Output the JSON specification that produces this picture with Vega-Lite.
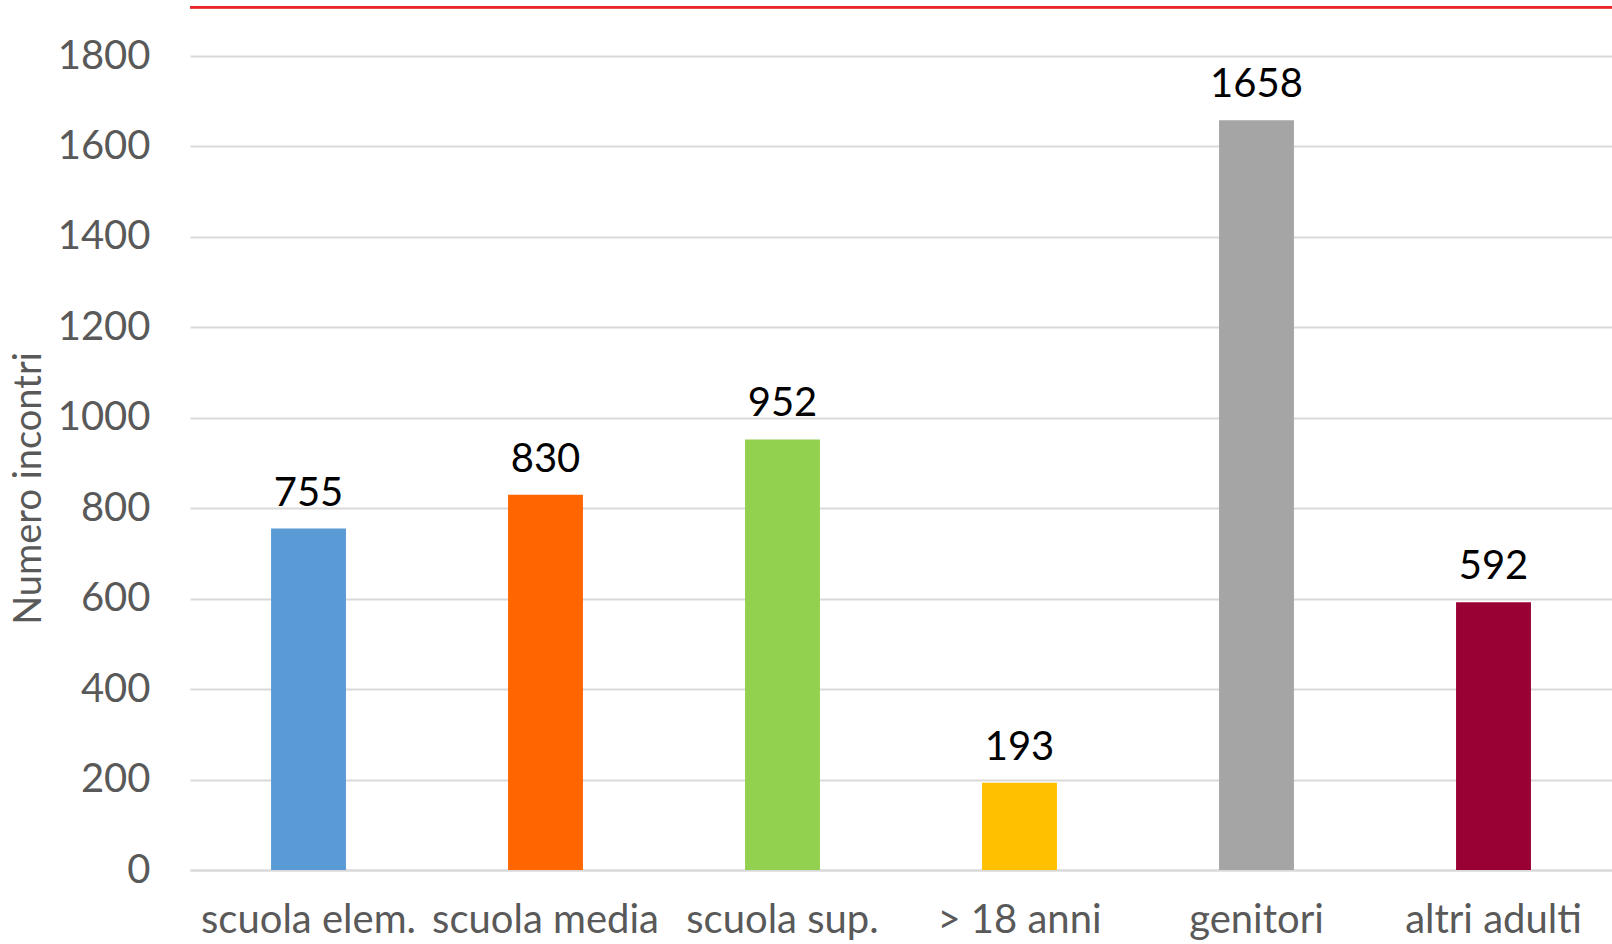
{
  "$schema": "https://vega.github.io/schema/vega-lite/v6.json",
  "autosize": "none",
  "width": 1422,
  "height": 814,
  "padding": {"left": 190, "top": 56, "right": 0, "bottom": 74},
  "background": "white",
  "config": {"view": {"stroke": null}, "font": "Lato"},
  "data": {
    "values": [
      {"categoria": "scuola elem.", "incontri": 755},
      {"categoria": "scuola media", "incontri": 830},
      {"categoria": "scuola sup.", "incontri": 952},
      {"categoria": "> 18 anni", "incontri": 193},
      {"categoria": "genitori", "incontri": 1658},
      {"categoria": "altri adulti", "incontri": 592}
    ]
  },
  "encoding": {
    "x": {
      "field": "categoria",
      "type": "nominal",
      "sort": null,
      "scale": {"paddingInner": 0.684, "paddingOuter": 0.342},
      "axis": {
        "title": null,
        "labelAngle": 0,
        "labelFont": "Lato",
        "labelFontSize": 40,
        "labelColor": "#595959",
        "labelBaseline": "alphabetic",
        "labelPadding": 62,
        "ticks": false,
        "domain": true,
        "domainColor": "#D9D9D9",
        "domainWidth": 2,
        "grid": false,
        "labelOverlap": false,
        "labelLimit": 400
      }
    },
    "y": {
      "field": "incontri",
      "type": "quantitative",
      "scale": {"domain": [0, 1800], "nice": false},
      "axis": {
        "title": "Numero incontri",
        "titleFont": "Lato",
        "titleFontSize": 38,
        "titleFontWeight": "normal",
        "titleColor": "#595959",
        "titleBaseline": "middle",
        "titleX": -161,
        "titleY": 432,
        "format": "d",
        "values": [0, 200, 400, 600, 800, 1000, 1200, 1400, 1600, 1800],
        "labelFont": "Lato",
        "labelFontSize": 40,
        "labelColor": "#595959",
        "labelPadding": 40,
        "ticks": false,
        "domain": false,
        "grid": true,
        "gridColor": "#D9D9D9",
        "gridWidth": 2
      }
    }
  },
  "layer": [
    {
      "mark": {"type": "bar"},
      "encoding": {
        "color": {
          "field": "categoria",
          "type": "nominal",
          "sort": null,
          "scale": {
            "domain": ["scuola elem.", "scuola media", "scuola sup.", "> 18 anni", "genitori", "altri adulti"],
            "range": ["#5B9BD5", "#FF6600", "#92D050", "#FFC000", "#A5A5A5", "#990033"]
          },
          "legend": null
        }
      }
    },
    {
      "mark": {"type": "text", "baseline": "alphabetic", "dy": -23, "font": "Lato", "fontSize": 40, "color": "#000000"},
      "encoding": {"text": {"field": "incontri", "type": "quantitative"}}
    },
    {
      "mark": {"type": "rule", "color": "#E8262B", "strokeWidth": 2, "clip": false},
      "encoding": {"y": {"datum": 1908}, "x": null}
    }
  ]
}
